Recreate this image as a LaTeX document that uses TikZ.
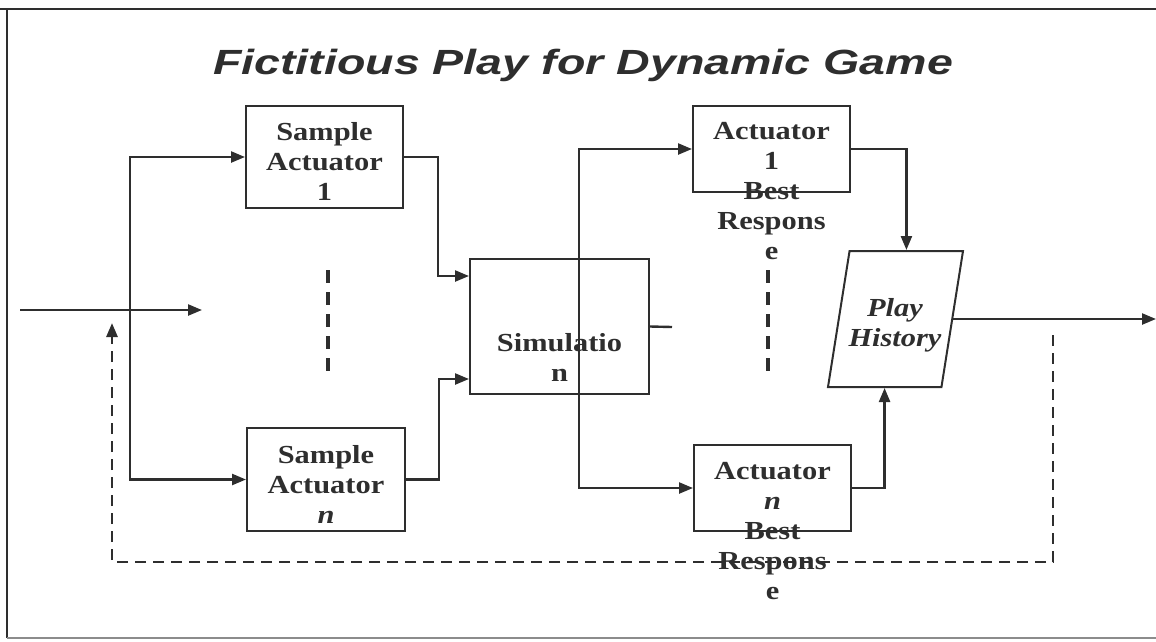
\documentclass[tikz,border=0pt]{standalone}
\usepackage{fontspec}
\setmainfont{Liberation Serif}
\newfontfamily\titlefont[FakeStretch=1.33]{Liberation Sans}
\newfontfamily\boxfont[FakeStretch=1.17]{Liberation Serif}
\usetikzlibrary{arrows.meta, positioning, calc, shapes.geometric}
\definecolor{ink}{HTML}{2E2E2E}

\begin{document}
\begin{tikzpicture}[
    x=1pt, y=-1pt,
    >={Triangle[length=14pt, width=11pt]},
    flow/.style={draw=ink, line width=2.4pt},
    blockbox/.style={draw=ink, line width=2pt, inner sep=0pt},
    boxtext/.style={font=\boxfont\bfseries\fontsize{26}{30}\selectfont, text=ink, align=center, inner sep=0pt},
    boxtextit/.style={font=\boxfont\bfseries\itshape\fontsize{26}{30}\selectfont, text=ink, align=center, inner sep=0pt},
    feedback/.style={draw=ink, line width=2.8pt, dash pattern=on 11pt off 7pt},
    ellipsis/.style={draw=ink, line width=3.6pt, dash pattern=on 13pt off 9pt}
]
\useasboundingbox (0,0) rectangle (1156,641);

% frame
\draw[ink, line width=2.8pt] (0,9) -- (1156,9);
\draw[ink, line width=2.2pt] (7,9) -- (7,638);
\draw[black!45, line width=1.5pt] (7,638) -- (1156,638);

\node[font=\titlefont\bfseries\itshape\fontsize{35}{39}\selectfont, text=ink] (title) at (583,65) {Fictitious Play for Dynamic Game};

% blocks
\node[blockbox, minimum width=157pt, minimum height=102pt] (samp1) at (324.5,157) {};
\node[blockbox, minimum width=158pt, minimum height=103pt] (sampn) at (326,479.5) {};
\node[blockbox, minimum width=179pt, minimum height=135pt] (sim) at (559.5,326.5) {};
\node[blockbox, minimum width=157pt, minimum height=86pt] (act1) at (771.5,149) {};
\node[blockbox, minimum width=157pt, minimum height=86pt] (actn) at (772.5,488) {};
\node[draw=ink, line width=2pt, inner sep=1pt, trapezium, trapezium left angle=76.8, trapezium right angle=103.2,
      trapezium stretches=true, minimum width=135pt, minimum height=136pt] (play) at (895.5,319) {};

\node[boxtext] (samp1lbl) at (324.5,161) {Sample\\Actuator\\1};
\node[boxtext] (sampnlbl) at (326,484) {Sample\\Actuator\\\textit{n}};
\node[boxtext] (simlbl) at (559.5,357) {Simulatio\\n};
\node[boxtext] (act1lbl) at (771.5,191) {Actuator\\1\\Best\\Respons\\e};
\node[boxtext] (actnlbl) at (772.5,531) {Actuator\\\textit{n}\\Best\\Respons\\e};
\node[boxtextit] (playlbl) at (895,325) {Play\\History};

% connectors
\coordinate (in) at (20,310);
\coordinate (inend) at (202,310);
\coordinate (split) at (130,310);
\coordinate (tap) at (579,327);
\coordinate (stub) at (672,327);
\coordinate (out) at (1156,319);

\draw[flow, ->] (in) -- (inend);
\draw[flow, ->] (split) |- (samp1.west);
\draw[flow, ->] (split) |- (sampn.west);
\draw[flow, ->] (samp1.east) -- ++(34,0) |- ([yshift=-18pt]sim.north west);
\draw[flow, ->] (sampn.east) -- ++(33,0) |- ([yshift=16pt]sim.south west);
\draw[flow] (sim.east) -- (stub);
\draw[flow, ->] (tap) |- (act1.west);
\draw[flow, ->] (tap) |- (actn.west);
\draw[flow, ->] (act1.east) -| (play.top side);
\draw[flow, ->] (actn.east) -| (play.bottom side);
\draw[flow, ->] (play.right side) -- (out);

% feedback loop
\coordinate (fbstart) at (1053,335);
\coordinate (fbbottom) at (600,562);
\coordinate (fbend) at (112,323);
\draw[feedback, ->] (fbstart) |- (fbbottom) -| (fbend);

% vertical ellipses
\coordinate (dotsAtop) at (328,270);
\coordinate (dotsAbot) at (328,379);
\coordinate (dotsBtop) at (768,270);
\coordinate (dotsBbot) at (768,377);
\draw[ellipsis] (dotsAtop) -- (dotsAbot);
\draw[ellipsis] (dotsBtop) -- (dotsBbot);
\end{tikzpicture}
\end{document}
